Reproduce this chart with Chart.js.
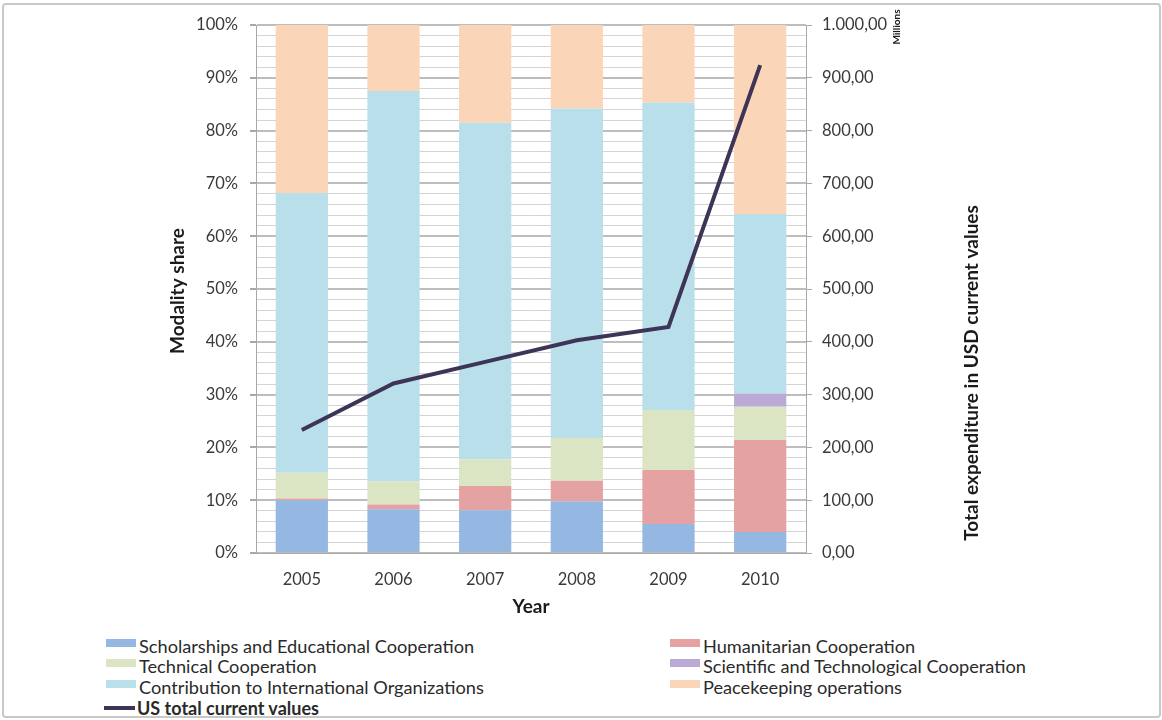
<!DOCTYPE html>
<html lang="en">
<head>
    <meta charset="UTF-8">
    <title>Modality share and US total expenditure</title>
    <style>
        body {
            margin: 0;
            background: #fff;
            font-family: Lato, "Open Sans", sans-serif;
        }
        #frame {
            position: relative;
            width: 1162px;
            height: 720px;
        }
        #frame:after {
            content: "";
            position: absolute;
            left: 2px; top: 3px; right: 1px; bottom: 2px;
            border: 2px solid #c8c8c8;
            border-radius: 4px;
            pointer-events: none;
        }
        #chart {
            position: absolute;
            left: 0; top: 0;
        }
        .legend-item {
            position: absolute;
            font-size: 18.2px;
            color: #2a2a2a;
            white-space: nowrap;
            line-height: 20px;
        }
        .legend-item .sw {
            display: inline-block;
            width: 30px;
            height: 8px;
            margin-right: 3px;
            vertical-align: 6px;
        }
        .legend-item .ln {
            display: inline-block;
            width: 31px;
            height: 4px;
            margin-right: 2px;
            vertical-align: 5px;
        }
        .legend-item.bold { font-weight: bold; font-size: 18px; }
    </style>
    <script src="https://cdn.jsdelivr.net/npm/chart.js"></script>
</head>
<body>
<div id="frame">
    <canvas id="chart" width="1162" height="630"></canvas>
    <div id="legend"></div>
</div>

<script>
    // shares in percent, stacked bottom to top
    const years = ["2005", "2006", "2007", "2008", "2009", "2010"];
    const scholarships = [10.0, 8.3, 8.1, 9.8, 5.5, 4.0];
    const humanitarian = [0.3, 0.9, 4.6, 3.9, 10.2, 17.4];
    const technical = [4.9, 4.4, 5.0, 8.1, 11.4, 6.3];
    const scientific = [0, 0, 0, 0, 0, 2.5];
    const contribution = [53.0, 73.9, 63.8, 62.4, 58.2, 34.0];
    const peacekeeping = [31.8, 12.5, 18.5, 15.8, 14.7, 35.8];
    // US total, millions USD (right axis)
    const usTotal = [233, 321, 362, 403, 428, 924];

    const legendRows = [
        { label: "Scholarships and Educational Cooperation", color: "#95b8e2", x: 106, y: 636 },
        { label: "Humanitarian Cooperation", color: "#e4a3a2", x: 670, y: 636 },
        { label: "Technical Cooperation", color: "#dbe5c4", x: 106, y: 656 },
        { label: "Scientific and Technological Cooperation", color: "#bbaad6", x: 670, y: 656 },
        { label: "Contribution to International Organizations", color: "#b9e0ea", x: 106, y: 677 },
        { label: "Peacekeeping operations", color: "#fbd5b7", x: 670, y: 677 }
    ];
    const lineColor = "#3e3457";

    function bars(label, data, color) {
        return {
            type: "bar",
            label: label,
            data: data,
            backgroundColor: color,
            yAxisID: "y",
            order: 1,
            barPercentage: 0.57,
            categoryPercentage: 1.0
        };
    }

    // European number style for the right axis, e.g. 1.000,00
    function euro(v) {
        const parts = v.toFixed(2).split(".");
        const whole = parts[0].replace(/\B(?=(\d{3})+(?!\d))/g, ".");
        return whole + "," + parts[1];
    }

    const axisTitles = {
        id: "axisTitles",
        afterDraw(chart) {
            const c = chart.ctx;
            const area = chart.chartArea;
            c.save();
            c.fillStyle = "#1a1a1a";
            c.textAlign = "center";
            c.textBaseline = "middle";

            c.font = "bold 19px Lato";
            c.fillText("Year", (area.left + area.right) / 2, 607);

            c.save();
            c.translate(178, (area.top + area.bottom) / 2 + 2);
            c.rotate(-Math.PI / 2);
            c.fillText("Modality share", 0, 0);
            c.restore();

            c.save();
            c.translate(972, 373);
            c.rotate(-Math.PI / 2);
            c.fillText("Total expenditure in USD current values", 0, 0);
            c.restore();

            c.save();
            c.translate(897, 27);
            c.rotate(-Math.PI / 2);
            c.font = "bold 10px Lato";
            c.fillText("Millions", 0, 0);
            c.restore();
            c.restore();
        }
    };

    const tickFont = { family: "Lato", size: 16.5 };
    const tickColor = "#3a3a3a";

    new Chart(document.getElementById("chart"), {
        data: {
            labels: years,
            datasets: [
                {
                    type: "line",
                    label: "US total current values",
                    data: usTotal,
                    yAxisID: "y2",
                    borderColor: lineColor,
                    borderWidth: 4,
                    pointRadius: 0,
                    tension: 0,
                    order: 0
                },
                bars(legendRows[0].label, scholarships, legendRows[0].color),
                bars(legendRows[1].label, humanitarian, legendRows[1].color),
                bars(legendRows[2].label, technical, legendRows[2].color),
                bars(legendRows[3].label, scientific, legendRows[3].color),
                bars(legendRows[4].label, contribution, legendRows[4].color),
                bars(legendRows[5].label, peacekeeping, legendRows[5].color)
            ]
        },
        options: {
            responsive: false,
            animation: false,
            layout: { padding: { left: 150, right: 150, top: 25, bottom: 37 } },
            plugins: {
                legend: { display: false },
                tooltip: { enabled: false }
            },
            scales: {
                x: {
                    stacked: true,
                    afterFit: s => { s.height = 40; },
                    grid: { display: false },
                    border: { color: "#a8a8a8", width: 1 },
                    ticks: { font: tickFont, color: tickColor, padding: 9 }
                },
                y: {
                    stacked: true,
                    position: "left",
                    min: 0,
                    max: 100,
                    afterFit: s => { s.width = 106; },
                    border: { color: "#a8a8a8", width: 1 },
                    grid: {
                        color: ctx => ctx.tick.value % 10 === 0 ? "#bdbdbd" : "#d4d4d4",
                        lineWidth: ctx => ctx.tick.value % 10 === 0 ? 2 : 1,
                        tickColor: ctx => ctx.tick.value % 10 === 0 ? "#a8a8a8" : "rgba(0,0,0,0)",
                        tickLength: 6
                    },
                    ticks: {
                        stepSize: 2,
                        autoSkip: false,
                        font: tickFont,
                        color: tickColor,
                        padding: 12,
                        callback: v => v % 10 === 0 ? v + "%" : ""
                    }
                },
                y2: {
                    position: "right",
                    min: 0,
                    max: 1000,
                    afterFit: s => { s.width = 206; },
                    border: { color: "#a8a8a8", width: 1 },
                    grid: {
                        drawOnChartArea: false,
                        tickColor: "#a8a8a8",
                        tickLength: 6
                    },
                    ticks: {
                        stepSize: 100,
                        font: tickFont,
                        color: tickColor,
                        padding: 10,
                        callback: v => euro(v)
                    }
                }
            }
        },
        plugins: [axisTitles]
    });

    // legend laid out in two columns under the plot
    const legend = document.getElementById("legend");
    legendRows.forEach(r => {
        const d = document.createElement("div");
        d.className = "legend-item";
        d.style.left = r.x + "px";
        d.style.top = r.y + "px";
        d.innerHTML = '<span class="sw" style="background:' + r.color + '"></span>' + r.label;
        legend.appendChild(d);
    });
    const lineItem = document.createElement("div");
    lineItem.className = "legend-item bold";
    lineItem.style.left = "104px";
    lineItem.style.top = "698px";
    lineItem.innerHTML = '<span class="ln" style="background:' + lineColor + '"></span>US total current values';
    legend.appendChild(lineItem);
</script>
</body>
</html>
